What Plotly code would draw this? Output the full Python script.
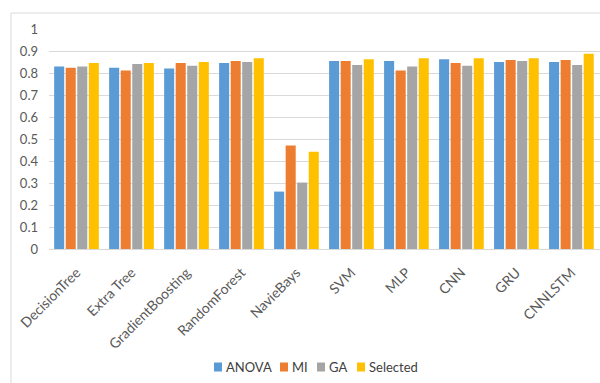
import plotly.graph_objects as go

# Classifier accuracy per feature-selection method
models = ["DecisionTree", "Extra Tree", "GradientBoosting", "RandomForest", "NavieBays",
          "SVM", "MLP", "CNN", "GRU", "CNNLSTM"]
anova = [0.829, 0.824, 0.820, 0.845, 0.261, 0.855, 0.855, 0.862, 0.850, 0.850]
mi = [0.824, 0.811, 0.845, 0.855, 0.471, 0.855, 0.811, 0.845, 0.859, 0.859]
ga = [0.829, 0.841, 0.833, 0.850, 0.302, 0.836, 0.829, 0.833, 0.855, 0.836]
selected = [0.845, 0.845, 0.850, 0.867, 0.442, 0.862, 0.867, 0.867, 0.867, 0.888]

series_names = ["ANOVA", "MI", "GA", "Selected"]
series_values = [anova, mi, ga, selected]
series_colors = ["#5B9BD5", "#ED7D31", "#A5A5A5", "#FFC000"]

FONT = "Lato"
TEXT_COLOR = "#595959"
GRID = "#D9D9D9"

W, H = 600, 383
M_L, M_R, M_T, M_B = 49, 0, 29, 134
PW = W - M_L - M_R
PH = H - M_T - M_B


def px(x):
    return (x - M_L) / PW


def py(y):
    return (H - M_B - y) / PH


fig = go.Figure()
for name, vals, color in zip(series_names, series_values, series_colors):
    fig.add_trace(go.Bar(x=models, y=vals, name=name, marker=dict(color=color, line=dict(width=0)),
                         showlegend=False))

shapes = [
    # outer chart frame
    dict(type="rect", xref="paper", yref="paper", x0=px(11), x1=px(700), y0=py(500), y1=py(13),
         line=dict(color=GRID, width=1), fillcolor="rgba(0,0,0,0)", layer="below"),
]
annotations = []

# legend row under the chart
legend_x = [214, 280, 317, 357]
legend_y = 367
for name, color, lx in zip(series_names, series_colors, legend_x):
    shapes.append(dict(type="rect", xref="paper", yref="paper",
                       x0=px(lx), x1=px(lx + 8), y0=py(legend_y + 4.5), y1=py(legend_y - 4.5),
                       line=dict(width=0), fillcolor=color))
    annotations.append(dict(text=name, xref="paper", yref="paper", x=px(lx + 10), y=py(legend_y),
                            xanchor="left", yanchor="middle", showarrow=False,
                            font=dict(family=FONT, size=13, color="#404040")))

fig.update_layout(
    width=W, height=H,
    margin=dict(l=M_L, r=M_R, t=M_T, b=M_B),
    paper_bgcolor="white", plot_bgcolor="white",
    barmode="group", bargap=0.16, bargroupgap=0.13,
    font=dict(family=FONT, size=13, color=TEXT_COLOR),
    shapes=shapes, annotations=annotations,
    xaxis=dict(
        tickangle=-45, tickfont=dict(family=FONT, size=14, color=TEXT_COLOR),
        showline=True, linecolor=GRID, linewidth=1,
        ticks="outside", ticklen=9, tickcolor="rgba(0,0,0,0)",
        range=[-0.5, 9.52], showgrid=False,
    ),
    yaxis=dict(
        range=[0, 1], dtick=0.1, tick0=0, showgrid=True, gridcolor=GRID, gridwidth=1,
        zeroline=False, showline=False, ticklabelstandoff=10,
        tickfont=dict(family=FONT, size=13, color=TEXT_COLOR),
    ),
)

fig.write_html("out.html")
